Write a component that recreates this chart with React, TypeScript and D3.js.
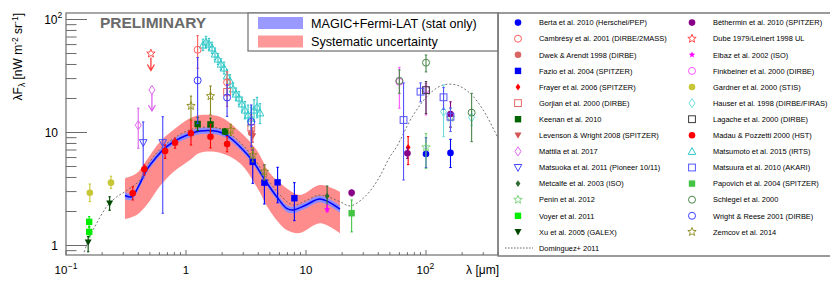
import React from 'react';
import * as d3 from 'd3';

type Pt = [number, number, number, number];

// ---------- MAGIC+Fermi-LAT EBL band ----------
const magicLam = [0.31, 0.353, 0.414, 0.47, 0.57, 0.69, 0.89, 1.08, 1.31, 1.81, 2.18, 2.82, 3.64, 4.55, 5.7, 6.9, 7.8, 10, 13.1, 19.2];
const magicVal = [2.77, 2.70, 3.55, 4.66, 6.11, 7.49, 8.89, 9.70, 10.31, 10.26, 9.50, 7.49, 5.51, 3.80, 2.70, 2.13, 2.06, 2.28, 2.58, 2.10];
const statHigh = [2.98, 2.88, 3.78, 4.97, 6.52, 7.98, 9.47, 10.33, 10.98, 10.93, 10.12, 7.98, 5.87, 4.05, 2.88, 2.28, 2.20, 2.44, 2.76, 2.26];
const statLow = [2.57, 2.53, 3.33, 4.37, 5.73, 7.03, 8.34, 9.10, 9.67, 9.62, 8.91, 7.03, 5.17, 3.56, 2.53, 1.99, 1.93, 2.14, 2.42, 1.96];

const sysLam = [0.31, 0.388, 0.47, 0.607, 0.784, 1.08, 1.31, 1.92, 2.82, 3.88, 5.01, 6.90, 8.91, 13.1, 19.2];
const sysHigh = [3.93, 4.35, 5.71, 8.29, 10.52, 13.36, 14.28, 13.8, 10.16, 7.0, 4.35, 3.21, 2.80, 3.43, 2.99];
const sysLow = [1.71, 1.86, 2.28, 3.36, 4.47, 5.71, 6.62, 6.62, 5.34, 3.31, 2.02, 1.37, 1.29, 1.57, 1.28];

// ---------- Dominguez+ 2011 model ----------
const domLam = [0.135, 0.158, 0.18, 0.218, 0.265, 0.31, 0.414, 0.47, 0.57, 0.69, 0.89, 1.08, 1.31, 1.81, 2.18, 2.82, 3.64, 4.55, 6.07, 7.84, 10, 13.1, 19.2, 23.3, 30, 38.8, 50.1, 57, 78.4, 108, 139, 180, 233, 300, 400];
const domVal = [0.75, 1.20, 1.57, 2.20, 2.70, 2.99, 3.8, 5.0, 6.6, 8.0, 9.6, 10.6, 11.1, 11.0, 10.2, 8.2, 6.0, 4.2, 2.80, 2.28, 2.5, 2.80, 2.44, 2.24, 2.62, 3.67, 6.11, 7.49, 14.3, 22.2, 26.3, 26.3, 22.2, 15.8, 8.8];

// ---------- measurements: [lambda, value, low, high] ----------
const bertaPts: Pt[] = [[100, 6.45, 4.9, 9.0], [160, 6.6, 4.9, 8.7]];
const cambresyPts: Pt[] = [[1.25, 54, 37, 72], [2.2, 27.8, 21.1, 34.5]];
const dwekPts: Pt[] = [[3.5, 9.9, 7.0, 12.8]];
const fazioPts: Pt[] = [[3.6, 5.5, 3.55, 7.0], [4.5, 3.6, 2.33, 5.16], [5.8, 3.62, 2.39, 4.92], [8.0, 2.62, 1.66, 3.6]];
const frayerPts: Pt[] = [[71, 7.4, 5.2, 9.2]];
const gorjianPts: Pt[] = [[2.2, 22.9, 17, 29], [3.5, 11.0, 7.7, 14.3]];
const keenanPts: Pt[] = [[1.25, 11.9, 10.4, 13.6], [1.6, 11.8, 10.3, 13.4], [2.12, 10.2, 9.6, 10.8]];
const levensonPts: Pt[] = [[3.6, 9.3, 8.2, 11.0]];
const mattilaPts: Pt[] = [[0.40, 11.6, 7.25, 16.4]];
const matsuokaPts: Pt[] = [[0.44, 8.13, 3.96, 12.4], [0.64, 8.13, 1.93, 13.8]];
const metcalfePts: Pt[] = [[15, 2.74, 2.09, 3.36]];
const peninPts: Pt[] = [[100, 7.4, 4.8, 9.8], [160, 13.5, 11.3, 16.4]];
const voyerPts: Pt[] = [[0.156, 1.62, 1.46, 1.8], [0.156, 1.32, 1.19, 1.46]];
const xuPts: Pt[] = [[0.153, 1.07, 0.88, 1.20], [0.231, 2.36, 2.05, 2.70]];
const bethermiPts: Pt[] = [[24, 2.93, 2.75, 3.1], [70, 6.55, 5.9, 7.3], [160, 14.6, 11.1, 18.7]];
const elbazPts: Pt[] = [[15, 2.1, 1.98, 2.28]];
const finkbeinerPts: Pt[] = [[60, 28.1, 16.4, 37.7], [100, 24.1, 14.3, 27.2]];
const gardnerPts: Pt[] = [[0.158, 2.93, 2.45, 3.5], [0.237, 3.6, 3.2, 4.1]];
const hauserPts: Pt[] = [[140, 15.3, 9.2, 26.3], [240, 13.6, 11.5, 16.0]];
const lagachePts: Pt[] = [[100, 23.7, 14.7, 28.2]];
const madauPts: Pt[] = [[0.36, 2.90, 2.53, 3.31], [0.45, 4.72, 4.21, 5.16], [0.67, 6.86, 5.9, 7.76], [0.81, 8.13, 7.26, 8.9], [1.1, 9.84, 7.75, 12.9], [1.6, 9.18, 7.3, 11.8], [2.2, 7.91, 6.75, 9.2]];
const matsumotoPts: Pt[] = [
  [1.386, 59.5, 53, 67], [1.468, 63.2, 56, 71], [1.555, 60.7, 54, 68], [1.647, 56.0, 50, 63], [1.744, 49.5, 44, 56],
  [1.848, 44.7, 40, 50], [1.957, 40.3, 36, 45], [2.073, 37.2, 33, 42], [2.196, 31.6, 28, 36], [2.326, 28.6, 25, 32.5],
  [2.464, 24.3, 21.5, 27.5], [2.61, 21.9, 19.3, 24.8], [2.765, 20.2, 17.6, 23], [2.929, 17.9, 15.5, 20.6], [3.10, 15.8, 13.2, 18.8],
  [3.29, 14.3, 11.5, 17.5], [3.48, 13.4, 10.5, 16.8], [3.69, 15.8, 12.5, 19.5], [3.91, 16.8, 13.5, 20.5], [4.14, 14.9, 12, 18]
];
const matsuuraPts: Pt[] = [[65, 12.9, 3.8, 27.5], [90, 23.0, 18.7, 27.5], [140, 20.5, 16, 25], [160, 13.8, 10.2, 16.5]];
const papovichPts: Pt[] = [[24, 1.93, 1.32, 2.53]];
const schlegelPts: Pt[] = [[60, 28.7, 22.2, 35.8], [100, 41.5, 34.4, 48.5], [240, 15.0, 8.3, 22.2]];
const wrightPts: Pt[] = [[1.25, 28.9, 12, 46], [2.2, 20.4, 13.9, 26.5], [3.5, 12.4, 7.5, 17.5]];
const zemcovPts: Pt[] = [[1.1, 17.2, 12.9, 21.0], [1.6, 21.0, 14.3, 25.8], [2.36, 10.5, 9.4, 11.8], [3.6, 6.3, 5.5, 7.3], [4.5, 4.5, 3.8, 5.2]];
// upper limits: [lambda, value]
const dubeUL: [number, number][] = [[0.51, 50]];
const mattilaUL: [number, number][] = [[0.52, 23.8]];

const legendCol1 = [
  'Berta et al. 2010 (Herschel/PEP)', 'Cambrésy et al. 2001 (DIRBE/2MASS)', 'Dwek & Arendt 1998 (DIRBE)',
  'Fazio et al. 2004 (SPITZER)', 'Frayer et al. 2006 (SPITZER)', 'Gorjian et al. 2000 (DIRBE)', 'Keenan et al. 2010',
  'Levenson & Wright 2008 (SPITZER)', 'Mattila et al. 2017', 'Matsuoka et al. 2011 (Pioneer 10/11)',
  'Metcalfe et al. 2003 (ISO)', 'Penin et al. 2012', 'Voyer et al. 2011', 'Xu et al. 2005 (GALEX)'
];
const legendCol2 = [
  'Béthermin et al. 2010 (SPITZER)', 'Dube 1979/Leinert 1998 UL', 'Elbaz et al. 2002 (ISO)', 'Finkbeiner et al. 2000 (DIRBE)',
  'Gardner et al. 2000 (STIS)', 'Hauser et al. 1998 (DIRBE/FIRAS)', 'Lagache et al. 2000 (DIRBE)', 'Madau & Pozzetti 2000 (HST)',
  'Matsumoto et al. 2015 (IRTS)', 'Matsuura et al. 2010 (AKARI)', 'Papovich et al. 2004 (SPITZER)', 'Schlegel et al. 2000',
  'Wright & Reese 2001 (DIRBE)', 'Zemcov et al. 2014'
];

type DS = { name: string; marker: string; color: string; pts: Pt[]; ul?: [number, number][]; ulLen?: number };

const col1: DS[] = [
  { name: legendCol1[0], marker: 'circle', color: '#0000ff', pts: bertaPts },
  { name: legendCol1[1], marker: 'ocircle', color: '#ff5f5f', pts: cambresyPts },
  { name: legendCol1[2], marker: 'circle', color: '#d96464', pts: dwekPts },
  { name: legendCol1[3], marker: 'square', color: '#0000ff', pts: fazioPts },
  { name: legendCol1[4], marker: 'sdiamond', color: '#ff0000', pts: frayerPts },
  { name: legendCol1[5], marker: 'osquare', color: '#e86a6a', pts: gorjianPts },
  { name: legendCol1[6], marker: 'square', color: '#006400', pts: keenanPts },
  { name: legendCol1[7], marker: 'tridown', color: '#d65555', pts: levensonPts },
  { name: legendCol1[8], marker: 'odiamond', color: '#dd66ee', pts: mattilaPts, ul: mattilaUL, ulLen: 17 },
  { name: legendCol1[9], marker: 'otridown', color: '#4646ff', pts: matsuokaPts },
  { name: legendCol1[10], marker: 'sdiamond', color: '#2e6a2e', pts: metcalfePts },
  { name: legendCol1[11], marker: 'ostar', color: '#70d070', pts: peninPts },
  { name: legendCol1[12], marker: 'square', color: '#00ee00', pts: voyerPts },
  { name: legendCol1[13], marker: 'tridown', color: '#004800', pts: xuPts },
];
const col2: DS[] = [
  { name: legendCol2[0], marker: 'circle', color: '#880088', pts: bethermiPts },
  { name: legendCol2[1], marker: 'ostar', color: '#ff3a3a', pts: [], ul: dubeUL, ulLen: 13 },
  { name: legendCol2[2], marker: 'sstar', color: '#ff00ff', pts: elbazPts },
  { name: legendCol2[3], marker: 'ocircle', color: '#ff55ff', pts: finkbeinerPts },
  { name: legendCol2[4], marker: 'circle', color: '#c6c636', pts: gardnerPts },
  { name: legendCol2[5], marker: 'odiamond', color: '#6fdcdc', pts: hauserPts },
  { name: legendCol2[6], marker: 'osquare', color: '#3a3a3a', pts: lagachePts },
  { name: legendCol2[7], marker: 'circle', color: '#ff0000', pts: madauPts },
  { name: legendCol2[8], marker: 'otriup', color: '#30c8c8', pts: matsumotoPts },
  { name: legendCol2[9], marker: 'osquare', color: '#5555ff', pts: matsuuraPts },
  { name: legendCol2[10], marker: 'square', color: '#44c444', pts: papovichPts },
  { name: legendCol2[11], marker: 'ocircle', color: '#4a874a', pts: schlegelPts },
  { name: legendCol2[12], marker: 'ocircle', color: '#3c3cff', pts: wrightPts },
  { name: legendCol2[13], marker: 'ostar', color: '#8a8a1a', pts: zemcovPts },
];

const drawOrder: DS[] = [col2[8], col2[1], col1[8], ...col1.filter((_, i) => i !== 8), ...col2.filter((_, i) => i !== 8 && i !== 1)];

const FONT = 'Liberation Sans, Arial, Helvetica, sans-serif';
const PX0 = 66, PX1 = 498, PY0 = 13, PY1 = 255;
const xScale = d3.scaleLog().domain([0.1, 400]).range([66, 66 + 120 * (Math.log10(400) + 1)]);
const yScale = d3.scaleLog().domain([0.824, 114.2]).range([255, 13]);

function starPath(x: number, y: number, ro: number, ri: number) {
  const pts: string[] = [];
  for (let i = 0; i < 10; i++) {
    const a = -Math.PI / 2 + (i * Math.PI) / 5;
    const r = i % 2 === 0 ? ro : ri;
    pts.push(`${(x + r * Math.cos(a)).toFixed(2)},${(y + r * Math.sin(a)).toFixed(2)}`);
  }
  return 'M' + pts.join('L') + 'Z';
}

function Marker({ type, x, y, color }: { type: string; x: number; y: number; color: string }) {
  switch (type) {
    case 'circle':
      return <circle cx={x} cy={y} r={3.3} fill={color} />;
    case 'ocircle':
      return <circle cx={x} cy={y} r={3.5} fill="none" stroke={color} strokeWidth={1} />;
    case 'square':
      return <rect x={x - 3.2} y={y - 3.2} width={6.4} height={6.4} fill={color} />;
    case 'osquare':
      return <rect x={x - 3.4} y={y - 3.4} width={6.8} height={6.8} fill="none" stroke={color} strokeWidth={1} />;
    case 'tridown':
      return <path d={`M${x - 3.5},${y - 2.8}L${x + 3.5},${y - 2.8}L${x},${y + 3.5}Z`} fill={color} />;
    case 'otridown':
      return <path d={`M${x - 3.8},${y - 3}L${x + 3.8},${y - 3}L${x},${y + 3.8}Z`} fill="none" stroke={color} strokeWidth={1} />;
    case 'otriup':
      return <path d={`M${x - 3.8},${y + 3}L${x + 3.8},${y + 3}L${x},${y - 3.8}Z`} fill="none" stroke={color} strokeWidth={1} />;
    case 'odiamond':
      return <path d={`M${x},${y - 4.5}L${x + 3},${y}L${x},${y + 4.5}L${x - 3},${y}Z`} fill="none" stroke={color} strokeWidth={1} />;
    case 'sdiamond':
      return <path d={`M${x},${y - 3.4}L${x + 2.4},${y}L${x},${y + 3.4}L${x - 2.4},${y}Z`} fill={color} />;
    case 'ostar':
      return <path d={starPath(x, y, 4.4, 1.9)} fill="none" stroke={color} strokeWidth={0.9} />;
    case 'sstar':
      return <path d={starPath(x, y, 3.4, 1.5)} fill={color} />;
    default:
      return null;
  }
}

function Dataset({ ds }: { ds: DS }) {
  return (
    <g>
      {ds.pts.map((p, i) => {
        const x = xScale(p[0]);
        const y0 = yScale(p[2]);
        const y1 = yScale(p[3]);
        return (
          <g key={'e' + i} stroke={ds.color} strokeWidth={1.1}>
            <line x1={x} x2={x} y1={y0} y2={y1} />
            <line x1={x - 1.2} x2={x + 1.2} y1={y0} y2={y0} />
            <line x1={x - 1.2} x2={x + 1.2} y1={y1} y2={y1} />
          </g>
        );
      })}
      {ds.pts.map((p, i) => (
        <Marker key={'m' + i} type={ds.marker} x={xScale(p[0])} y={yScale(p[1])} color={ds.color} />
      ))}
      {(ds.ul || []).map((u, i) => {
        const x = xScale(u[0]);
        const y = yScale(u[1]);
        const tip = y + 4 + (ds.ulLen || 12);
        return (
          <g key={'u' + i}>
            <path d={`M${x},${y + 4}L${x},${tip}M${x - 3.5},${tip - 6}L${x},${tip}L${x + 3.5},${tip - 6}`} fill="none" stroke={ds.color} strokeWidth={1.3} />
            <Marker type={ds.marker} x={x} y={y} color={ds.color} />
          </g>
        );
      })}
    </g>
  );
}

export default function App() {
  const line = d3.line<number>().x((_, i) => xScale(magicLam[i])).y((v) => yScale(v)).curve(d3.curveCatmullRom);
  const statArea = d3.area<number>().x((_, i) => xScale(magicLam[i])).y0((_, i) => yScale(statLow[i])).y1((v) => yScale(v)).curve(d3.curveCatmullRom);
  const sysArea = d3.area<number>().x((_, i) => xScale(sysLam[i])).y0((_, i) => yScale(sysLow[i])).y1((v) => yScale(v)).curve(d3.curveCatmullRom);
  const domLine = d3.line<number>().x((_, i) => xScale(domLam[i])).y((v) => yScale(v)).curve(d3.curveCatmullRom);

  const yTicks = yScale.ticks();
  const xTicks = xScale.ticks();
  const isMajor = (v: number) => Math.abs(Math.log10(v) - Math.round(Math.log10(v))) < 1e-6;

  const rowY = (i: number) => 22.6 + 16.1 * i;
  const LF = 7.45;

  return (
    <svg width={830} height={285} style={{ position: 'absolute', left: 0, top: 0, background: '#fff' }} fontFamily={FONT}>
      <defs>
        <clipPath id="plotclip">
          <rect x={PX0} y={PY0} width={PX1 - PX0} height={PY1 - PY0} />
        </clipPath>
      </defs>
      <rect x={0} y={0} width={830} height={285} fill="#fff" />
      <g clipPath="url(#plotclip)">
        <path d={sysArea(sysHigh) || ''} fill="#ff8c8c" />
        <path d={statArea(statHigh) || ''} fill="#8c8cff" />
        <path d={line(magicVal) || ''} fill="none" stroke="#0000ff" strokeWidth={1.5} />
        <path d={domLine(domVal) || ''} fill="none" stroke="#555" strokeWidth={0.8} strokeDasharray="2,2" />
        {drawOrder.map((ds, i) => <Dataset key={i} ds={ds} />)}
      </g>

      {/* frame */}
      <rect x={PX0} y={PY0} width={PX1 - PX0} height={PY1 - PY0} fill="none" stroke="#7a7a7a" strokeWidth={1.3} />
      {/* y ticks */}
      {yTicks.map((t, i) => (
        <line key={'yt' + i} x1={PX0} x2={PX0 + (isMajor(t) ? 21 : 10.5)} y1={yScale(t)} y2={yScale(t)} stroke="#6a6a6a" strokeWidth={1} />
      ))}
      {/* x ticks */}
      {xTicks.map((t, i) => (
        <line key={'xt' + i} x1={xScale(t)} x2={xScale(t)} y1={PY1} y2={PY1 - (isMajor(t) ? 5 : 2.8)} stroke="#6a6a6a" strokeWidth={1} />
      ))}
      {/* y tick labels */}
      <g fontSize={12} fill="#000">
        <text x={58} y={yScale(1) + 4.3} textAnchor="end">1</text>
        <text x={58} y={yScale(10) + 4.3} textAnchor="end">10</text>
        <text x={57.5} y={yScale(100) + 4.3} textAnchor="end">10</text>
        <text x={57.5} y={yScale(100) - 1.5} fontSize={8.5}>2</text>
      </g>
      {/* x tick labels */}
      <g fontSize={11.5} fill="#000">
        <text x={xScale(0.1) - 11.5} y={274}>10</text>
        <text x={xScale(0.1) + 1.8} y={268.5} fontSize={8.5}>−1</text>
        <text x={xScale(1)} y={274} textAnchor="middle">1</text>
        <text x={xScale(10)} y={274} textAnchor="middle">10</text>
        <text x={xScale(100) - 9.5} y={274}>10</text>
        <text x={xScale(100) + 3.5} y={268.5} fontSize={8.5}>2</text>
      </g>
      {/* axis titles */}
      <text x={499} y={274} textAnchor="end" fontSize={12}>λ [μm]</text>
      <text transform="translate(22,13) rotate(-90)" textAnchor="end" fontSize={12}>
        λF<tspan dy={3} fontSize={8.5}>λ</tspan>
        <tspan dy={-3}> [nW m</tspan>
        <tspan dy={-4.5} fontSize={8.5}>-2</tspan>
        <tspan dy={4.5}> sr</tspan>
        <tspan dy={-4.5} fontSize={8.5}>-1</tspan>
        <tspan dy={4.5}>]</tspan>
      </text>

      {/* PRELIMINARY */}
      <text x={100} y={28.3} fontSize={15.5} fontWeight="bold" fill="#6a6a6a">PRELIMINARY</text>

      {/* inner legend */}
      <rect x={248} y={PY0} width={PX1 - 248} height={38} fill="#fff" stroke="#7a7a7a" strokeWidth={1.3} />
      <rect x={258} y={17} width={45} height={12} fill="#9999ff" />
      <rect x={258} y={35.5} width={45} height={12} fill="#ff9999" />
      <text x={311} y={27.5} fontSize={12.6}>MAGIC+Fermi-LAT (stat only)</text>
      <text x={311} y={46} fontSize={12.6}>Systematic uncertainty</text>

      {/* right legend */}
      <path d={`M830,${PY0}L${PX1},${PY0}L${PX1},256L830,256`} fill="none" stroke="#7a7a7a" strokeWidth={1.3} />
      {col1.map((ds, i) => (
        <g key={'l1' + i}>
          <Marker type={ds.marker} x={518} y={rowY(i)} color={ds.color} />
          <text x={539} y={rowY(i) + 2.7} fontSize={LF}>{ds.name}</text>
        </g>
      ))}
      <line x1={505} x2={533} y1={rowY(14)} y2={rowY(14)} stroke="#444" strokeWidth={0.8} strokeDasharray="1.6,1.4" />
      <text x={539} y={rowY(14) + 2.7} fontSize={LF}>Dominguez+ 2011</text>
      {col2.map((ds, i) => (
        <g key={'l2' + i}>
          <Marker type={ds.marker} x={692} y={rowY(i)} color={ds.color} />
          <text x={713} y={rowY(i) + 2.7} fontSize={LF}>{ds.name}</text>
        </g>
      ))}
    </svg>
  );
}
